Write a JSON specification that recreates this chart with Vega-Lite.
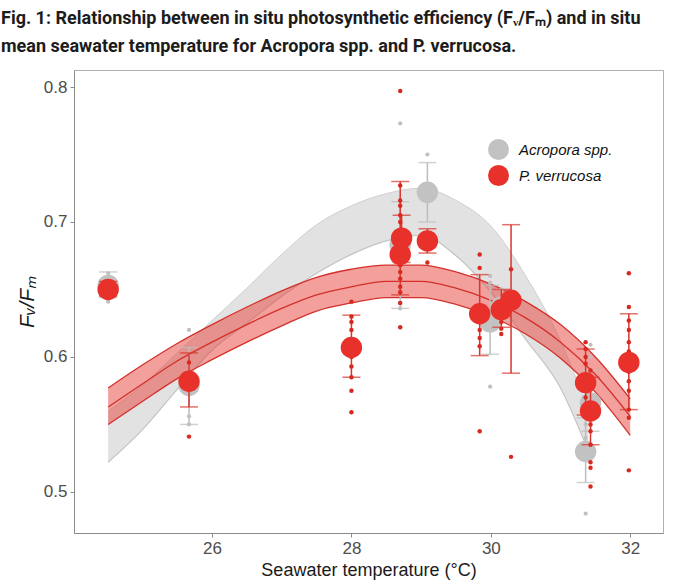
{
  "$schema": "https://vega.github.io/schema/vega-lite/v6.json",
  "autosize": {"type": "none"},
  "padding": {"left": 74, "top": 70, "right": 17, "bottom": 54},
  "width": 589,
  "height": 463,
  "background": "white",
  "config": {
    "font": "Liberation Sans",
    "view": {"stroke": "#b0b0b0", "strokeWidth": 1},
    "axis": {
      "grid": false,
      "domainColor": "#8a8a8a",
      "tickColor": "#8a8a8a",
      "tickSize": 4,
      "labelFontSize": 17,
      "labelColor": "#4d4d4d",
      "labelPadding": 3,
      "titleColor": "#1a1a1a",
      "titleFontWeight": "normal"
    }
  },
  "title": {
    "text": [
      "Fig. 1: Relationship between in situ photosynthetic efficiency (Fᵥ/Fₘ) and in situ",
      "mean seawater temperature for Acropora spp. and P. verrucosa."
    ],
    "anchor": "start",
    "frame": "group",
    "dx": -73,
    "offset": 14,
    "font": "Roboto",
    "fontSize": 18,
    "fontWeight": "bold",
    "lineHeight": 28,
    "color": "#1c1c1c"
  },
  "datasets": {
    "redBand": [
      {"T": 24.51, "lo": 0.550, "mid": 0.563, "hi": 0.577},
      {"T": 25.0, "lo": 0.567, "mid": 0.580, "hi": 0.594},
      {"T": 25.5, "lo": 0.584, "mid": 0.597, "hi": 0.610},
      {"T": 26.0, "lo": 0.598, "mid": 0.611, "hi": 0.624},
      {"T": 26.5, "lo": 0.611, "mid": 0.624, "hi": 0.637},
      {"T": 27.0, "lo": 0.623, "mid": 0.636, "hi": 0.649},
      {"T": 27.5, "lo": 0.634, "mid": 0.646, "hi": 0.659},
      {"T": 28.0, "lo": 0.640, "mid": 0.652, "hi": 0.665},
      {"T": 28.5, "lo": 0.644, "mid": 0.656, "hi": 0.668},
      {"T": 29.0, "lo": 0.644, "mid": 0.656, "hi": 0.668},
      {"T": 29.5, "lo": 0.639, "mid": 0.651, "hi": 0.663},
      {"T": 30.0, "lo": 0.630, "mid": 0.642, "hi": 0.654},
      {"T": 30.5, "lo": 0.617, "mid": 0.629, "hi": 0.641},
      {"T": 31.0, "lo": 0.599, "mid": 0.611, "hi": 0.624},
      {"T": 31.5, "lo": 0.574, "mid": 0.587, "hi": 0.600},
      {"T": 32.0, "lo": 0.542, "mid": 0.556, "hi": 0.569}
    ],
    "grayBand": [
      {"T": 24.51, "lo": 0.522, "hi": 0.560},
      {"T": 25.0, "lo": 0.546, "hi": 0.579},
      {"T": 25.5, "lo": 0.576, "hi": 0.603},
      {"T": 26.0, "lo": 0.605, "hi": 0.627},
      {"T": 26.5, "lo": 0.625, "hi": 0.651},
      {"T": 27.0, "lo": 0.645, "hi": 0.676},
      {"T": 27.5, "lo": 0.662, "hi": 0.698},
      {"T": 28.0, "lo": 0.676, "hi": 0.712},
      {"T": 28.5, "lo": 0.686, "hi": 0.721},
      {"T": 29.0, "lo": 0.690, "hi": 0.725},
      {"T": 29.5, "lo": 0.675, "hi": 0.716},
      {"T": 30.0, "lo": 0.648, "hi": 0.697},
      {"T": 30.5, "lo": 0.613, "hi": 0.660},
      {"T": 31.0, "lo": 0.577, "hi": 0.612},
      {"T": 31.4, "lo": 0.530, "hi": 0.560}
    ],
    "means": [
      {"sp": "Acropora spp.", "T": 24.51, "mean": 0.653, "lo": 0.644, "hi": 0.663},
      {"sp": "Acropora spp.", "T": 25.67, "mean": 0.579, "lo": 0.550, "hi": 0.607},
      {"sp": "Acropora spp.", "T": 28.70, "mean": 0.683, "lo": 0.636, "hi": 0.715},
      {"sp": "Acropora spp.", "T": 29.09, "mean": 0.722, "lo": 0.700, "hi": 0.744},
      {"sp": "Acropora spp.", "T": 29.99, "mean": 0.626, "lo": 0.602, "hi": 0.653},
      {"sp": "Acropora spp.", "T": 30.15, "mean": 0.637, "lo": 0.627, "hi": 0.650},
      {"sp": "Acropora spp.", "T": 31.36, "mean": 0.530, "lo": 0.507, "hi": 0.555},
      {"sp": "Acropora spp.", "T": 31.43, "mean": 0.566, "lo": 0.545, "hi": 0.590},
      {"sp": "P. verrucosa", "T": 24.51, "mean": 0.650, "lo": 0.645, "hi": 0.656},
      {"sp": "P. verrucosa", "T": 25.67, "mean": 0.582, "lo": 0.563, "hi": 0.603},
      {"sp": "P. verrucosa", "T": 28.00, "mean": 0.607, "lo": 0.585, "hi": 0.631},
      {"sp": "P. verrucosa", "T": 28.70, "mean": 0.676, "lo": 0.646, "hi": 0.730},
      {"sp": "P. verrucosa", "T": 28.72, "mean": 0.688, "lo": 0.670, "hi": 0.705},
      {"sp": "P. verrucosa", "T": 29.09, "mean": 0.686, "lo": 0.677, "hi": 0.695},
      {"sp": "P. verrucosa", "T": 29.84, "mean": 0.632, "lo": 0.601, "hi": 0.661},
      {"sp": "P. verrucosa", "T": 30.15, "mean": 0.635, "lo": 0.622, "hi": 0.650},
      {"sp": "P. verrucosa", "T": 30.29, "mean": 0.642, "lo": 0.588, "hi": 0.698},
      {"sp": "P. verrucosa", "T": 31.36, "mean": 0.581, "lo": 0.557, "hi": 0.606},
      {"sp": "P. verrucosa", "T": 31.43, "mean": 0.560, "lo": 0.535, "hi": 0.585},
      {"sp": "P. verrucosa", "T": 31.98, "mean": 0.596, "lo": 0.561, "hi": 0.632}
    ],
    "raw": [
      {"sp": "Acropora spp.", "T": 24.51, "v": 0.641},
      {"sp": "Acropora spp.", "T": 24.51, "v": 0.662},
      {"sp": "Acropora spp.", "T": 25.67, "v": 0.620},
      {"sp": "Acropora spp.", "T": 25.67, "v": 0.556},
      {"sp": "Acropora spp.", "T": 25.67, "v": 0.550},
      {"sp": "Acropora spp.", "T": 28.70, "v": 0.773},
      {"sp": "Acropora spp.", "T": 28.70, "v": 0.640},
      {"sp": "Acropora spp.", "T": 28.70, "v": 0.636},
      {"sp": "Acropora spp.", "T": 29.09, "v": 0.750},
      {"sp": "Acropora spp.", "T": 29.99, "v": 0.578},
      {"sp": "Acropora spp.", "T": 29.99, "v": 0.660},
      {"sp": "Acropora spp.", "T": 29.99, "v": 0.655},
      {"sp": "Acropora spp.", "T": 30.15, "v": 0.650},
      {"sp": "Acropora spp.", "T": 31.36, "v": 0.484},
      {"sp": "Acropora spp.", "T": 31.36, "v": 0.550},
      {"sp": "Acropora spp.", "T": 31.36, "v": 0.540},
      {"sp": "Acropora spp.", "T": 31.43, "v": 0.609},
      {"sp": "Acropora spp.", "T": 31.43, "v": 0.600},
      {"sp": "Acropora spp.", "T": 31.43, "v": 0.585},
      {"sp": "Acropora spp.", "T": 31.43, "v": 0.575},
      {"sp": "P. verrucosa", "T": 24.51, "v": 0.647},
      {"sp": "P. verrucosa", "T": 24.51, "v": 0.655},
      {"sp": "P. verrucosa", "T": 25.67, "v": 0.541},
      {"sp": "P. verrucosa", "T": 25.67, "v": 0.596},
      {"sp": "P. verrucosa", "T": 28.00, "v": 0.641},
      {"sp": "P. verrucosa", "T": 28.00, "v": 0.630},
      {"sp": "P. verrucosa", "T": 28.00, "v": 0.626},
      {"sp": "P. verrucosa", "T": 28.00, "v": 0.620},
      {"sp": "P. verrucosa", "T": 28.00, "v": 0.612},
      {"sp": "P. verrucosa", "T": 28.00, "v": 0.600},
      {"sp": "P. verrucosa", "T": 28.00, "v": 0.593},
      {"sp": "P. verrucosa", "T": 28.00, "v": 0.585},
      {"sp": "P. verrucosa", "T": 28.00, "v": 0.575},
      {"sp": "P. verrucosa", "T": 28.00, "v": 0.559},
      {"sp": "P. verrucosa", "T": 28.70, "v": 0.797},
      {"sp": "P. verrucosa", "T": 28.70, "v": 0.727},
      {"sp": "P. verrucosa", "T": 28.70, "v": 0.716},
      {"sp": "P. verrucosa", "T": 28.70, "v": 0.712},
      {"sp": "P. verrucosa", "T": 28.70, "v": 0.705},
      {"sp": "P. verrucosa", "T": 28.70, "v": 0.700},
      {"sp": "P. verrucosa", "T": 28.70, "v": 0.694},
      {"sp": "P. verrucosa", "T": 28.70, "v": 0.668},
      {"sp": "P. verrucosa", "T": 28.70, "v": 0.663},
      {"sp": "P. verrucosa", "T": 28.70, "v": 0.658},
      {"sp": "P. verrucosa", "T": 28.70, "v": 0.652},
      {"sp": "P. verrucosa", "T": 28.70, "v": 0.648},
      {"sp": "P. verrucosa", "T": 28.70, "v": 0.640},
      {"sp": "P. verrucosa", "T": 28.70, "v": 0.622},
      {"sp": "P. verrucosa", "T": 29.09, "v": 0.670},
      {"sp": "P. verrucosa", "T": 29.84, "v": 0.676},
      {"sp": "P. verrucosa", "T": 29.84, "v": 0.666},
      {"sp": "P. verrucosa", "T": 29.84, "v": 0.627},
      {"sp": "P. verrucosa", "T": 29.84, "v": 0.620},
      {"sp": "P. verrucosa", "T": 29.84, "v": 0.614},
      {"sp": "P. verrucosa", "T": 29.84, "v": 0.608},
      {"sp": "P. verrucosa", "T": 29.84, "v": 0.545},
      {"sp": "P. verrucosa", "T": 30.15, "v": 0.626},
      {"sp": "P. verrucosa", "T": 30.15, "v": 0.621},
      {"sp": "P. verrucosa", "T": 30.15, "v": 0.617},
      {"sp": "P. verrucosa", "T": 30.29, "v": 0.665},
      {"sp": "P. verrucosa", "T": 30.29, "v": 0.526},
      {"sp": "P. verrucosa", "T": 31.36, "v": 0.611},
      {"sp": "P. verrucosa", "T": 31.36, "v": 0.606},
      {"sp": "P. verrucosa", "T": 31.36, "v": 0.600},
      {"sp": "P. verrucosa", "T": 31.36, "v": 0.595},
      {"sp": "P. verrucosa", "T": 31.36, "v": 0.575},
      {"sp": "P. verrucosa", "T": 31.36, "v": 0.570},
      {"sp": "P. verrucosa", "T": 31.43, "v": 0.590},
      {"sp": "P. verrucosa", "T": 31.43, "v": 0.550},
      {"sp": "P. verrucosa", "T": 31.43, "v": 0.545},
      {"sp": "P. verrucosa", "T": 31.43, "v": 0.535},
      {"sp": "P. verrucosa", "T": 31.43, "v": 0.522},
      {"sp": "P. verrucosa", "T": 31.43, "v": 0.518},
      {"sp": "P. verrucosa", "T": 31.43, "v": 0.504},
      {"sp": "P. verrucosa", "T": 31.98, "v": 0.662},
      {"sp": "P. verrucosa", "T": 31.98, "v": 0.637},
      {"sp": "P. verrucosa", "T": 31.98, "v": 0.627},
      {"sp": "P. verrucosa", "T": 31.98, "v": 0.620},
      {"sp": "P. verrucosa", "T": 31.98, "v": 0.611},
      {"sp": "P. verrucosa", "T": 31.98, "v": 0.604},
      {"sp": "P. verrucosa", "T": 31.98, "v": 0.589},
      {"sp": "P. verrucosa", "T": 31.98, "v": 0.582},
      {"sp": "P. verrucosa", "T": 31.98, "v": 0.575},
      {"sp": "P. verrucosa", "T": 31.98, "v": 0.561},
      {"sp": "P. verrucosa", "T": 31.98, "v": 0.555},
      {"sp": "P. verrucosa", "T": 31.98, "v": 0.516}
    ]
  },
  "encoding": {
    "x": {
      "field": "T",
      "type": "quantitative",
      "scale": {"domain": [24.02, 32.47], "nice": false, "zero": false},
      "axis": {
        "title": "Seawater temperature (°C)",
        "titleFontSize": 18,
        "titlePadding": 5,
        "values": [26, 28, 30, 32]
      }
    }
  },
  "layer": [
    {
      "data": {"name": "grayBand"},
      "mark": {"type": "area", "color": "#e2e2e2", "interpolate": "monotone"},
      "encoding": {
        "y": {
          "field": "lo",
          "type": "quantitative",
          "scale": {"domain": [0.4696, 0.8126], "nice": false, "zero": false},
          "axis": {
            "title": "Fᵥ/Fₘ",
            "titleFontSize": 21,
            "titleFontStyle": "italic",
            "titlePadding": 6,
            "values": [0.5, 0.6, 0.7, 0.8],
            "format": ".1f"
          }
        },
        "y2": {"field": "hi"}
      }
    },
    {
      "data": {"name": "grayBand"},
      "mark": {"type": "line", "color": "#c4c4c4", "strokeWidth": 1.2, "interpolate": "monotone"},
      "encoding": {"y": {"field": "lo", "type": "quantitative"}}
    },
    {
      "data": {"name": "grayBand"},
      "mark": {"type": "line", "color": "#cfcfcf", "strokeWidth": 1, "interpolate": "monotone"},
      "encoding": {"y": {"field": "hi", "type": "quantitative"}}
    },
    {
      "data": {"name": "redBand"},
      "mark": {"type": "area", "color": "#e8403a", "opacity": 0.5, "interpolate": "monotone"},
      "encoding": {
        "y": {"field": "lo", "type": "quantitative"},
        "y2": {"field": "hi"}
      }
    },
    {
      "data": {"name": "redBand"},
      "mark": {"type": "line", "color": "#d3302a", "strokeWidth": 1.3, "interpolate": "monotone"},
      "encoding": {"y": {"field": "lo", "type": "quantitative"}}
    },
    {
      "data": {"name": "redBand"},
      "mark": {"type": "line", "color": "#d3302a", "strokeWidth": 1.3, "interpolate": "monotone"},
      "encoding": {"y": {"field": "mid", "type": "quantitative"}}
    },
    {
      "data": {"name": "redBand"},
      "mark": {"type": "line", "color": "#d3302a", "strokeWidth": 1.3, "interpolate": "monotone"},
      "encoding": {"y": {"field": "hi", "type": "quantitative"}}
    },
    {
      "data": {"name": "means"},
      "transform": [{"filter": "datum.sp == 'Acropora spp.'"}],
      "mark": {"type": "rule", "color": "#bdbdbd", "strokeWidth": 1.5},
      "encoding": {
        "y": {"field": "lo", "type": "quantitative"},
        "y2": {"field": "hi"}
      }
    },
    {
      "data": {"name": "means"},
      "transform": [{"filter": "datum.sp == 'Acropora spp.'"}],
      "mark": {"type": "tick", "orient": "horizontal", "color": "#bdbdbd", "size": 18, "thickness": 1.5},
      "encoding": {"y": {"field": "lo", "type": "quantitative"}}
    },
    {
      "data": {"name": "means"},
      "transform": [{"filter": "datum.sp == 'Acropora spp.'"}],
      "mark": {"type": "tick", "orient": "horizontal", "color": "#bdbdbd", "size": 18, "thickness": 1.5},
      "encoding": {"y": {"field": "hi", "type": "quantitative"}}
    },
    {
      "data": {"name": "raw"},
      "transform": [{"filter": "datum.sp == 'Acropora spp.'"}],
      "mark": {"type": "circle", "color": "#c0c0c0", "opacity": 1, "size": 18},
      "encoding": {"y": {"field": "v", "type": "quantitative"}}
    },
    {
      "data": {"name": "means"},
      "transform": [{"filter": "datum.sp == 'Acropora spp.'"}],
      "mark": {"type": "circle", "opacity": 1, "size": 460},
      "encoding": {
        "y": {"field": "mean", "type": "quantitative"},
        "color": {
          "field": "sp",
          "type": "nominal",
          "scale": {"domain": ["Acropora spp.", "P. verrucosa"], "range": ["#c2c2c2", "#e8312a"]},
          "legend": {
            "title": null,
            "orient": "none",
            "legendX": 413,
            "legendY": 68,
            "symbolType": "circle",
            "symbolSize": 440,
            "symbolOpacity": 1,
            "labelFontSize": 15,
            "labelFontStyle": "italic",
            "labelColor": "#111111",
            "labelOffset": 9,
            "rowPadding": 4
          }
        }
      }
    },
    {
      "data": {"name": "means"},
      "transform": [{"filter": "datum.sp == 'P. verrucosa'"}],
      "mark": {"type": "rule", "color": "#d9352c", "strokeWidth": 1.5},
      "encoding": {
        "y": {"field": "lo", "type": "quantitative"},
        "y2": {"field": "hi"}
      }
    },
    {
      "data": {"name": "means"},
      "transform": [{"filter": "datum.sp == 'P. verrucosa'"}],
      "mark": {"type": "tick", "orient": "horizontal", "color": "#d9352c", "size": 18, "thickness": 1.5},
      "encoding": {"y": {"field": "lo", "type": "quantitative"}}
    },
    {
      "data": {"name": "means"},
      "transform": [{"filter": "datum.sp == 'P. verrucosa'"}],
      "mark": {"type": "tick", "orient": "horizontal", "color": "#d9352c", "size": 18, "thickness": 1.5},
      "encoding": {"y": {"field": "hi", "type": "quantitative"}}
    },
    {
      "data": {"name": "raw"},
      "transform": [{"filter": "datum.sp == 'P. verrucosa'"}],
      "mark": {"type": "circle", "color": "#d8291f", "opacity": 1, "size": 20},
      "encoding": {"y": {"field": "v", "type": "quantitative"}}
    },
    {
      "data": {"name": "means"},
      "transform": [{"filter": "datum.sp == 'P. verrucosa'"}],
      "mark": {"type": "circle", "opacity": 1, "size": 460},
      "encoding": {
        "y": {"field": "mean", "type": "quantitative"},
        "color": {"field": "sp", "type": "nominal"}
      }
    }
  ]
}
